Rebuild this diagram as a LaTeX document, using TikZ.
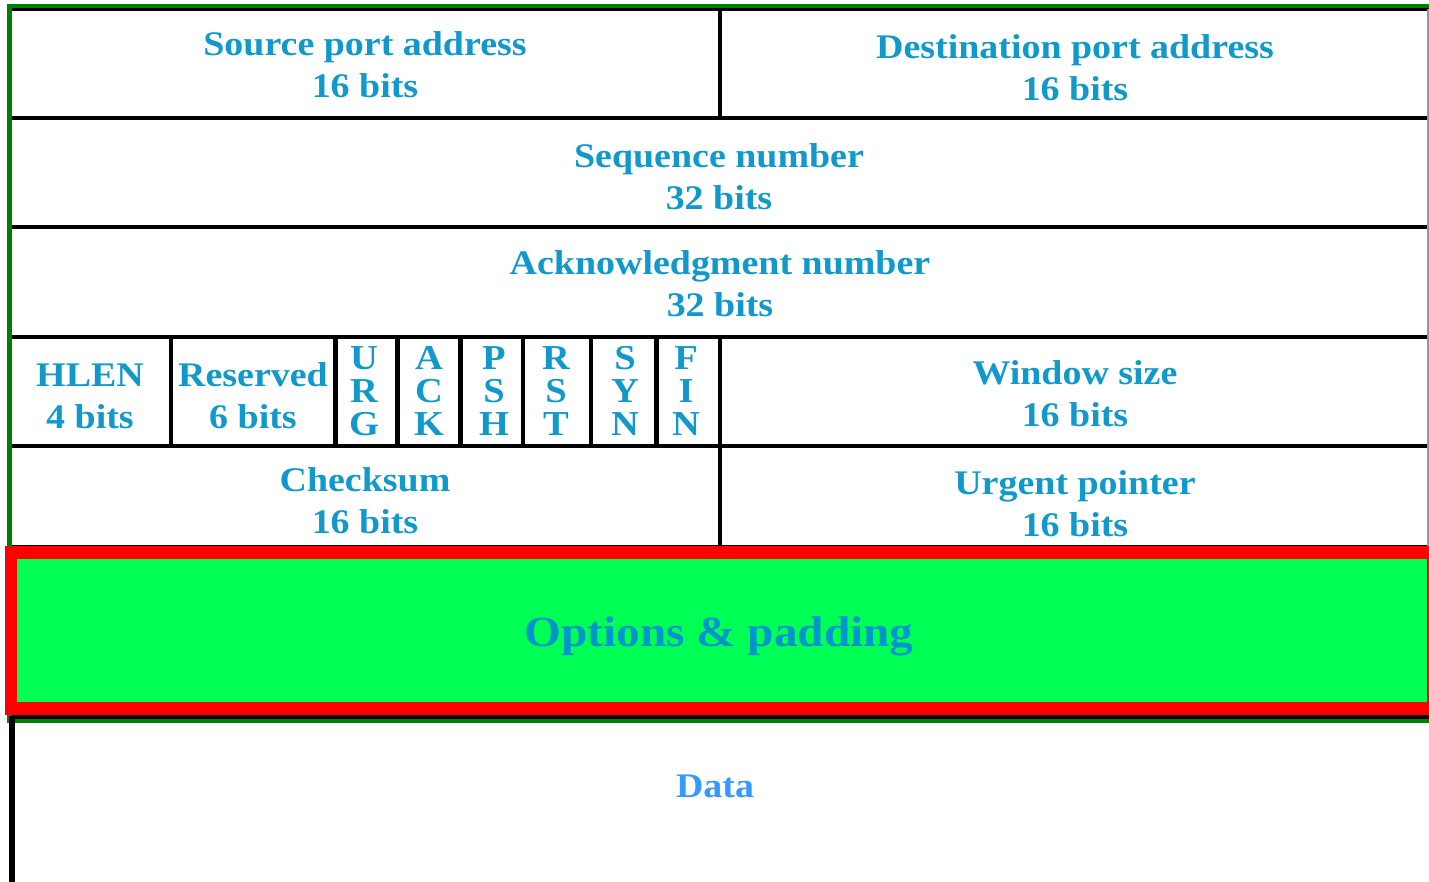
\documentclass[tikz,border=0pt]{standalone}
\usepackage{fontspec}
\setmainfont{Liberation Serif}[FakeStretch=1.1]
\definecolor{tcpblue}{RGB}{17,153,204}
\definecolor{datablue}{RGB}{51,153,255}
\definecolor{framegreen}{RGB}{0,128,0}
\definecolor{optgreen}{RGB}{0,255,85}
\definecolor{optred}{RGB}{255,0,0}
\definecolor{optblue}{RGB}{0,150,205}
\definecolor{edgegray}{RGB}{150,150,150}
\tikzset{
  lbl/.style={text=tcpblue, font=\fontsize{34.5}{42}\selectfont\bfseries, align=center, inner sep=0pt},
  flag/.style={text=tcpblue, font=\fontsize{35}{33}\selectfont\bfseries, align=center, inner sep=0pt},
  rule/.style={draw=black, line width=4.5pt},
  divider/.style={draw=black, line width=4.5pt},
}
\begin{document}
\begin{tikzpicture}[x=1pt,y=-1pt]
\clip (0,0) rectangle (1429,882);
\fill[white] (0,0) rectangle (1429,882);
% horizontal rules
\draw[draw=black, line width=3pt] (12,9.5) -- (1429,9.5);
\draw[rule] (12,118) -- (1429,118);
\draw[rule] (12,227) -- (1429,227);
\draw[rule] (12,337) -- (1429,337);
\draw[rule] (12,446) -- (1429,446);
\draw[rule] (12,547) -- (1429,547);
\draw[rule] (12,716.5) -- (1429,716.5);
% right edge
\draw[edgegray, line width=1.5pt] (1428,9) -- (1428,547);
% vertical dividers
\draw[divider] (720,9) -- (720,118);
\draw[divider] (720,337) -- (720,547);
\draw[divider] (171,337) -- (171,446);
\draw[divider] (335.5,337) -- (335.5,446);
\draw[divider] (397.5,337) -- (397.5,446);
\draw[divider] (460.5,337) -- (460.5,446);
\draw[divider] (523,337) -- (523,446);
\draw[divider] (591,337) -- (591,446);
\draw[divider] (656.5,337) -- (656.5,446);
% outer green frame
\draw[framegreen, line width=4pt] (7,6) -- (1429,6);
\draw[framegreen, line width=5pt] (9.5,4) -- (9.5,723);
\draw[framegreen, line width=4pt] (7,721) -- (1429,721);
% data left edge
\draw[black, line width=5.5pt] (12,716) -- (12,882);
% options box
\draw[optred, fill=optgreen, line width=12.5pt] (11,552.5) rectangle (1433.5,708.5);
% labels
\node[lbl] (src) at (365,65) {Source port address\\16 bits};
\node[lbl] (dst) at (1075,68) {Destination port address\\16 bits};
\node[lbl] (seq) at (719,177) {Sequence number\\32 bits};
\node[lbl] (ack) at (720,284) {Acknowledgment number\\32 bits};
\node[lbl] (hlen) at (90,396) {HLEN\\4 bits};
\node[lbl] (res) at (253,396) {Reserved\\6 bits};
\node[flag] (urg) at (364,391) {U\\R\\G};
\node[flag] (fack) at (429,391) {A\\C\\K};
\node[flag] (psh) at (494,391) {P\\S\\H};
\node[flag] (rst) at (556,391) {R\\S\\T};
\node[flag] (syn) at (625,391) {S\\Y\\N};
\node[flag] (fin) at (686,391) {F\\I\\N};
\node[lbl] (win) at (1075,394) {Window size\\16 bits};
\node[lbl] (chk) at (365,501) {Checksum\\16 bits};
\node[lbl] (urgp) at (1075,504) {Urgent pointer\\16 bits};
\node[text=optblue, font=\fontsize{43}{50}\selectfont\bfseries, inner sep=0pt] (opt) at (719,636) {Options \& padding};
\node[text=datablue, font=\fontsize{34.5}{42}\selectfont\bfseries, inner sep=0pt] (data) at (715,786) {Data};
\end{tikzpicture}
\end{document}
